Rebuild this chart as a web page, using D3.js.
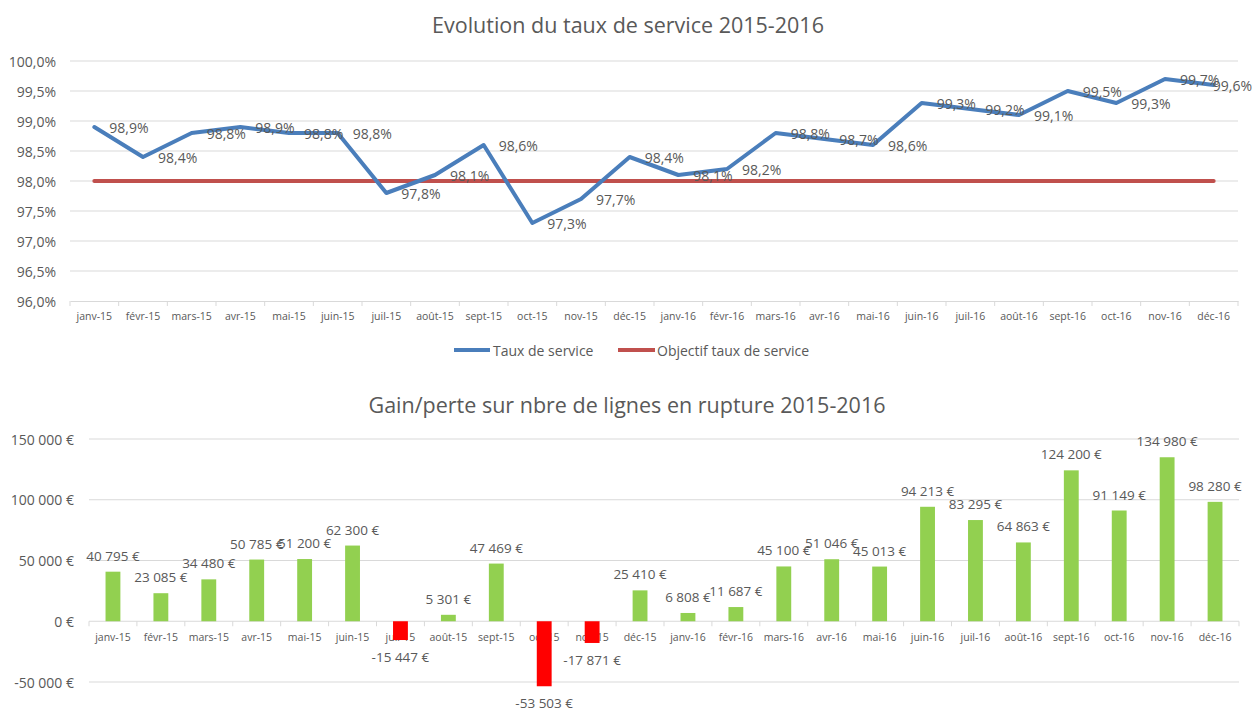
<!DOCTYPE html>
<html>
<head>
<meta charset="utf-8">
<script src="https://cdn.jsdelivr.net/npm/d3@7/dist/d3.min.js"></script>
<style>
  html, body { margin: 0; padding: 0; background: #ffffff; }
  svg { display: block; }
  text { font-family: "Open Sans", "Noto Sans", sans-serif; fill: #595959; }
</style>
</head>
<body>
<svg id="chart" width="1260" height="711"></svg>
<script>
// Months shared by both charts
const months = ["janv-15","févr-15","mars-15","avr-15","mai-15","juin-15","juil-15","août-15","sept-15","oct-15","nov-15","déc-15",
                "janv-16","févr-16","mars-16","avr-16","mai-16","juin-16","juil-16","août-16","sept-16","oct-16","nov-16","déc-16"];

// Service rate (%) and its target
const serviceRate = [98.9, 98.4, 98.8, 98.9, 98.8, 98.8, 97.8, 98.1, 98.6, 97.3, 97.7, 98.4,
                     98.1, 98.2, 98.8, 98.7, 98.6, 99.3, 99.2, 99.1, 99.5, 99.3, 99.7, 99.6];
const serviceTarget = 98.0;
const rateTicks = [96.0, 96.5, 97.0, 97.5, 98.0, 98.5, 99.0, 99.5, 100.0];

// Gain / loss on lines out of stock (€)
const gainLoss = [40795, 23085, 34480, 50785, 51200, 62300, -15447, 5301, 47469, -53503, -17871, 25410,
                  6808, 11687, 45100, 51046, 45013, 94213, 83295, 64863, 124200, 91149, 134980, 98280];
const gainTicks = [-50000, 0, 50000, 100000, 150000];

const seriesNames = ["Taux de service", "Objectif taux de service"];
const titles = ["Evolution du taux de service 2015-2016", "Gain/perte sur nbre de lignes en rupture 2015-2016"];

const svg = d3.select("#chart");
const gridColor = "#d9d9d9";
const blue = "#4a7ebb";
const red = "#c0504d";

const pct = v => v.toFixed(1).replace(".", ",") + "%";
const euro = v => {
  const s = d3.format(",")(Math.abs(v)).replace(/,/g, " ");
  return (v < 0 ? "-" : "") + s + " €";
};

// ---------- Chart 1: service rate ----------
{
  const x = d3.scaleBand().domain(months).range([70, 1238]);
  const y = d3.scaleLinear().domain([96, 100]).range([301, 61]);
  const g = svg.append("g");

  g.append("text").attr("x", 628).attr("y", 24).attr("text-anchor", "middle")
    .attr("dominant-baseline", "central").style("font-size", "21.5px").text(titles[0]);

  // horizontal grid
  g.selectAll("line.grid").data(rateTicks.slice(1)).join("line")
    .attr("x1", x.range()[0]).attr("x2", x.range()[1])
    .attr("y1", d => y(d)).attr("y2", d => y(d))
    .attr("stroke", gridColor).attr("stroke-width", 1);

  // y axis labels
  g.selectAll("text.ytick").data(rateTicks).join("text")
    .attr("x", 56).attr("y", d => y(d)).attr("text-anchor", "end")
    .attr("dominant-baseline", "central").style("font-size", "14px")
    .text(d => pct(d));

  // x axis with tick marks at category boundaries
  const xAxis = d3.axisBottom(x).tickSize(0).tickPadding(12);
  const ax = g.append("g").attr("transform", `translate(0,${y(96)})`).call(xAxis);
  ax.select(".domain").attr("stroke", gridColor);
  ax.selectAll("text").style("font-size", "10.5px").attr("fill", "#595959").attr("font-family", null);
  g.selectAll("line.xtick").data(months.concat(["end"])).join("line")
    .attr("x1", (d, i) => x.range()[0] + i * x.step()).attr("x2", (d, i) => x.range()[0] + i * x.step())
    .attr("y1", y(96)).attr("y2", y(96) + 5).attr("stroke", gridColor);

  const cx = d => x(d) + x.bandwidth() / 2;

  // target line
  g.append("line")
    .attr("x1", cx(months[0])).attr("x2", cx(months[months.length - 1]))
    .attr("y1", y(serviceTarget)).attr("y2", y(serviceTarget))
    .attr("stroke", red).attr("stroke-width", 4).attr("stroke-linecap", "round");

  // service rate line
  const line = d3.line().x((d, i) => cx(months[i])).y(d => y(d));
  g.append("path").datum(serviceRate).attr("d", line)
    .attr("fill", "none").attr("stroke", blue).attr("stroke-width", 4)
    .attr("stroke-linejoin", "round").attr("stroke-linecap", "round");

  // data labels, to the right of each point; pushed back inside at the right edge
  const rightLimit = 1252;
  g.selectAll("text.lbl").data(serviceRate).join("text")
    .attr("x", (d, i) => cx(months[i]) + 15).attr("y", d => y(d))
    .attr("dominant-baseline", "central").style("font-size", "14px").attr("fill", "#404040")
    .text(d => pct(d))
    .each(function () {
      const t = d3.select(this);
      const w = this.getComputedTextLength();
      const x0 = +t.attr("x");
      if (x0 + w > rightLimit) t.attr("x", rightLimit - w);
    });

  // legend
  const lg = g.append("g");
  lg.append("line").attr("x1", 454).attr("x2", 490).attr("y1", 350).attr("y2", 350)
    .attr("stroke", blue).attr("stroke-width", 4);
  lg.append("text").attr("x", 493).attr("y", 350).attr("dominant-baseline", "central")
    .style("font-size", "14px").text(seriesNames[0]);
  lg.append("line").attr("x1", 618).attr("x2", 655).attr("y1", 350).attr("y2", 350)
    .attr("stroke", red).attr("stroke-width", 4);
  lg.append("text").attr("x", 657).attr("y", 350).attr("dominant-baseline", "central")
    .style("font-size", "14px").text(seriesNames[1]);
}

// ---------- Chart 2: gain / loss bars ----------
{
  const x = d3.scaleBand().domain(months).range([89, 1239]).paddingInner(0.69).paddingOuter(0.345);
  const xb = d3.scaleBand().domain(months).range([89, 1239]);
  const y = d3.scaleLinear().domain([-50000, 150000]).range([682, 439]);
  const g = svg.append("g");

  g.append("text").attr("x", 627).attr("y", 404).attr("text-anchor", "middle")
    .attr("dominant-baseline", "central").style("font-size", "21.5px").text(titles[1]);

  g.selectAll("line.grid").data(gainTicks).join("line")
    .attr("x1", 89).attr("x2", 1239)
    .attr("y1", d => y(d)).attr("y2", d => y(d))
    .attr("stroke", gridColor).attr("stroke-width", 1);

  g.selectAll("text.ytick").data(gainTicks).join("text")
    .attr("x", 74).attr("y", d => y(d)).attr("text-anchor", "end")
    .attr("dominant-baseline", "central").style("font-size", "14px")
    .text(d => euro(d));

  // category labels on the zero line, with boundary ticks
  g.selectAll("text.xtick").data(months).join("text")
    .attr("x", d => xb(d) + xb.bandwidth() / 2).attr("y", y(0) + 16)
    .attr("text-anchor", "middle").attr("dominant-baseline", "central")
    .style("font-size", "10.5px").text(d => d);
  g.selectAll("line.xtick").data(months.concat(["end"])).join("line")
    .attr("x1", (d, i) => 89 + i * xb.step()).attr("x2", (d, i) => 89 + i * xb.step())
    .attr("y1", y(0)).attr("y2", y(0) + 5).attr("stroke", gridColor);

  // bars
  g.selectAll("rect.bar").data(gainLoss).join("rect")
    .attr("x", (d, i) => x(months[i])).attr("width", x.bandwidth())
    .attr("y", d => y(Math.max(0, d))).attr("height", d => Math.abs(y(d) - y(0)))
    .attr("fill", d => d >= 0 ? "#92d050" : "#ff0000");

  // value labels
  g.selectAll("text.lbl").data(gainLoss).join("text")
    .attr("x", (d, i) => x(months[i]) + x.bandwidth() / 2)
    .attr("y", d => d >= 0 ? y(d) - 16 : y(d) + 17)
    .attr("text-anchor", "middle").attr("dominant-baseline", "central")
    .style("font-size", "13.5px").attr("fill", "#404040")
    .text(d => euro(d));
}
</script>
</body>
</html>
